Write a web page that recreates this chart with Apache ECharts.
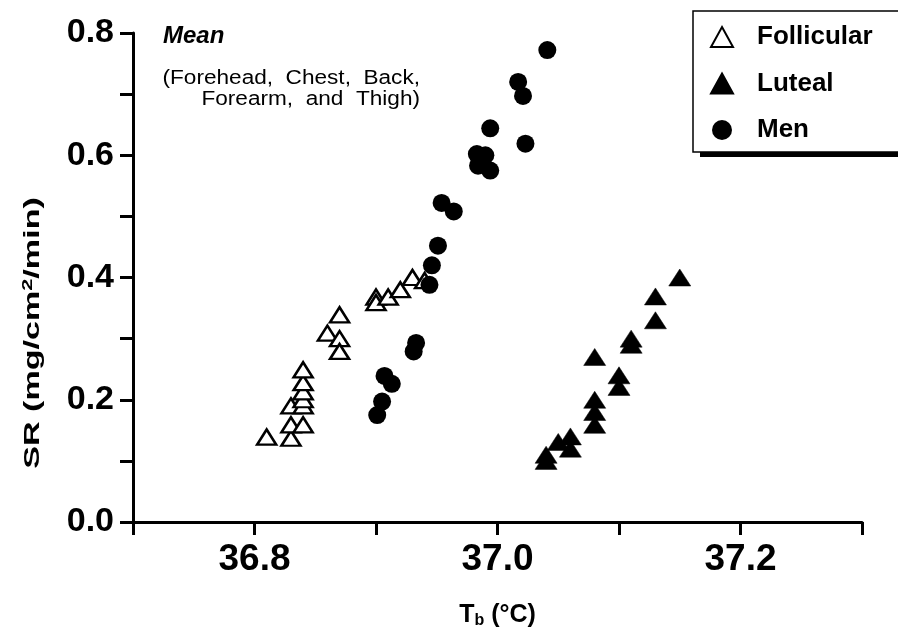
<!DOCTYPE html>
<html>
<head>
<meta charset="utf-8">
<script src="https://cdn.jsdelivr.net/npm/echarts@6/dist/echarts.min.js"></script>
<style>html,body{margin:0;padding:0;background:#fff;}#c{width:898px;height:631px;}</style>
</head>
<body>
<div id="c"></div>
<script>
// Data: [Tb (°C), SR (mg/cm2/min)]
const follicular = [
  [36.81, 0.139], [36.83, 0.137], [36.83, 0.159], [36.84, 0.159], [36.83, 0.190],
  [36.84, 0.190], [36.84, 0.200], [36.84, 0.213], [36.84, 0.228], [36.84, 0.249],
  [36.87, 0.339], [36.86, 0.309], [36.87, 0.300], [36.87, 0.279],
  [36.90, 0.368], [36.90, 0.359], [36.91, 0.368], [36.92, 0.380], [36.93, 0.400], [36.94, 0.395]
];
const luteal = [
  [37.15, 0.400], [37.13, 0.369], [37.13, 0.330], [37.11, 0.300], [37.11, 0.290],
  [37.08, 0.270], [37.10, 0.240], [37.10, 0.221], [37.08, 0.200], [37.08, 0.180],
  [37.08, 0.159], [37.06, 0.140], [37.05, 0.131], [37.06, 0.120], [37.04, 0.110], [37.04, 0.100]
];
const men = [
  [37.041, 0.772], [37.017, 0.720], [37.021, 0.697], [36.994, 0.644], [37.023, 0.619],
  [36.983, 0.602], [36.990, 0.600], [36.984, 0.583], [36.994, 0.575], [36.954, 0.522],
  [36.964, 0.508], [36.951, 0.452], [36.946, 0.420], [36.944, 0.388], [36.933, 0.293],
  [36.931, 0.279], [36.907, 0.239], [36.913, 0.226], [36.905, 0.197], [36.901, 0.175]
];
const seriesNames = ['Follicular', 'Luteal', 'Men'];
const xRange = [36.7, 37.3];
const yRange = [0, 0.8];
const tickStep = 0.1;

const FONT = 'Liberation Sans';
const chart = echarts.init(document.getElementById('c'), null, {renderer: 'canvas'});
const evenLabel = v => (Math.round(v * 10) % 2 === 0 ? v.toFixed(1) : '');
const axisCommon = {
  axisLine: {show: true, onZero: false, lineStyle: {color: '#000', width: 3}},
  axisTick: {show: true, inside: false, length: 13, lineStyle: {color: '#000', width: 3}},
  splitLine: {show: false},
  interval: tickStep
};

chart.setOption({
  backgroundColor: '#fff',
  animation: false,
  grid: {left: 133, right: 36, top: 33, bottom: 109, containLabel: false, outerBoundsMode: 'none'},
  xAxis: Object.assign({}, axisCommon, {
    type: 'value', min: xRange[0], max: xRange[1],
    axisLabel: {formatter: evenLabel, color: '#000', fontFamily: FONT, fontWeight: 'bold', fontSize: 37, margin: 19, showMinLabel: true, showMaxLabel: true},
    name: '{a|T}{b|b}{a| (°C)}', nameLocation: 'middle', nameGap: 80,
    nameTextStyle: {rich: {
      a: {fontFamily: FONT, fontWeight: 'bold', fontSize: 25, color: '#000'},
      b: {fontFamily: FONT, fontWeight: 'bold', fontSize: 16, color: '#000', padding: [11, 0, 0, 0]}
    }}
  }),
  yAxis: Object.assign({}, axisCommon, {
    type: 'value', min: yRange[0], max: yRange[1],
    axisLabel: {formatter: evenLabel, color: '#000', fontFamily: FONT, fontWeight: 'bold', fontSize: 34, margin: 19, showMinLabel: true, showMaxLabel: true}
  }),
  legend: {
    data: seriesNames, orient: 'vertical', left: 710, top: 24, padding: 0,
    itemWidth: 22, itemHeight: 20, itemGap: 20.5,
    textStyle: {fontFamily: FONT, fontWeight: 'bold', fontSize: 26, color: '#000', lineHeight: 26, padding: [0, 0, 0, 19]},
    z: 10
  },
  graphic: [
    {type: 'rect', z: 5, shape: {x: 700, y: 16, width: 240, height: 141}, style: {fill: '#000'}},
    {type: 'rect', z: 6, shape: {x: 693, y: 11, width: 240, height: 141}, style: {fill: '#fff', stroke: '#000', lineWidth: 1.5}},
    {type: 'text', z: 10, x: 163, y: 36, style: {text: 'Mean', font: 'italic bold 24px "Liberation Sans"', fill: '#000', align: 'left', verticalAlign: 'middle'}},
    {type: 'text', z: 10, x: 420, y: 89, scaleX: 1.13, style: {text: '(Forehead,  Chest,  Back,\nForearm,  and  Thigh)', font: '20px "Liberation Sans"', lineHeight: 21, fill: '#000', align: 'right', verticalAlign: 'middle'}},
    {type: 'text', z: 10, x: 33, y: 333, rotation: Math.PI / 2, scaleX: 1.55,
      style: {text: '{a|SR (mg/cm}{s|2}{a|/min)}', align: 'center', verticalAlign: 'middle',
        rich: {
          a: {fontFamily: FONT, fontWeight: 'bold', fontSize: 22, fill: '#000'},
          s: {fontFamily: FONT, fontWeight: 'bold', fontSize: 14, fill: '#000', padding: [0, 0, 10, 0]}
        }}}
  ],
  series: [
    {name: 'Follicular', type: 'scatter', data: follicular, symbol: 'triangle', symbolSize: [19, 15], z: 3,
      itemStyle: {color: '#fff', borderColor: '#000', borderWidth: 2.5, opacity: 1}},
    {name: 'Luteal', type: 'scatter', data: luteal, symbol: 'triangle', symbolSize: [22, 17], z: 3,
      itemStyle: {color: '#000', borderColor: '#000', borderWidth: 0.5, opacity: 1}},
    {name: 'Men', type: 'scatter', data: men, symbol: 'circle', symbolSize: 18, z: 4,
      itemStyle: {color: '#000', opacity: 1}}
  ]
});
</script>
</body>
</html>
